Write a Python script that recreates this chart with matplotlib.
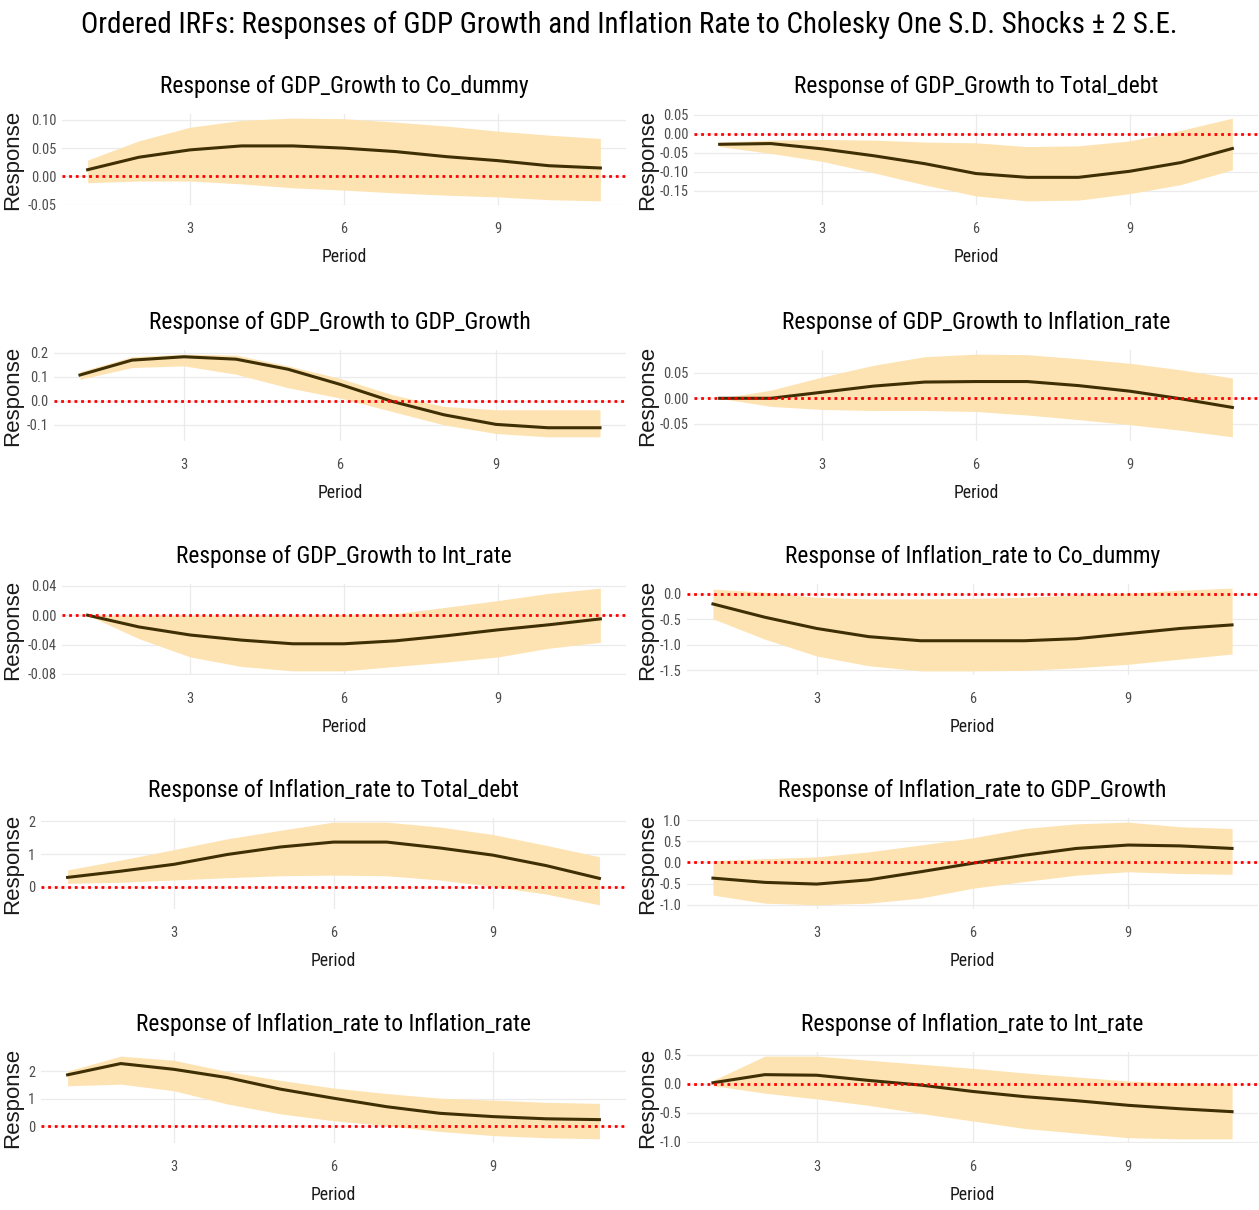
import numpy as np
import matplotlib
matplotlib.use('Agg')
import matplotlib.pyplot as plt
from matplotlib import font_manager
from matplotlib.font_manager import FontProperties
from matplotlib.textpath import TextToPath

W, H, DPI = 1259, 1210, 100

periods = np.arange(1, 12)

# responses of GDP_Growth
gdp_co_irf = [0.012, 0.034, 0.047, 0.054, 0.054, 0.050, 0.044, 0.035, 0.028, 0.019, 0.015]
gdp_co_lo = [-0.011, -0.008, -0.008, -0.013, -0.020, -0.024, -0.029, -0.033, -0.036, -0.041, -0.043]
gdp_co_hi = [0.029, 0.063, 0.087, 0.099, 0.103, 0.102, 0.096, 0.089, 0.080, 0.073, 0.067]

gdp_debt_irf = [-0.028, -0.026, -0.040, -0.058, -0.079, -0.105, -0.115, -0.115, -0.099, -0.076, -0.039]
gdp_debt_lo = [-0.034, -0.052, -0.073, -0.103, -0.135, -0.164, -0.177, -0.175, -0.158, -0.134, -0.095]
gdp_debt_hi = [-0.022, -0.017, -0.015, -0.017, -0.022, -0.024, -0.034, -0.032, -0.019, 0.009, 0.041]

gdp_gdp_irf = [0.107, 0.169, 0.183, 0.173, 0.131, 0.068, -0.003, -0.059, -0.099, -0.113, -0.113]
gdp_gdp_lo = [0.089, 0.138, 0.145, 0.110, 0.054, 0.011, -0.045, -0.101, -0.137, -0.151, -0.151]
gdp_gdp_hi = [0.121, 0.183, 0.194, 0.190, 0.145, 0.093, 0.025, -0.024, -0.038, -0.038, -0.038]

gdp_infl_irf = [0.000, 0.000, 0.012, 0.024, 0.032, 0.033, 0.033, 0.025, 0.014, -0.001, -0.018]
gdp_infl_lo = [0.000, -0.016, -0.022, -0.024, -0.024, -0.026, -0.033, -0.042, -0.052, -0.063, -0.076]
gdp_infl_hi = [0.000, 0.016, 0.042, 0.065, 0.082, 0.087, 0.086, 0.078, 0.069, 0.056, 0.040]

gdp_int_irf = [0.000, -0.016, -0.027, -0.034, -0.039, -0.039, -0.035, -0.028, -0.020, -0.013, -0.005]
gdp_int_lo = [0.000, -0.032, -0.057, -0.070, -0.076, -0.076, -0.070, -0.064, -0.057, -0.045, -0.037]
gdp_int_hi = [0.000, 0.000, 0.000, 0.000, 0.000, 0.001, 0.002, 0.011, 0.020, 0.030, 0.037]

# responses of Inflation_rate
infl_co_irf = [-0.20, -0.46, -0.68, -0.84, -0.92, -0.92, -0.92, -0.88, -0.78, -0.68, -0.61]
infl_co_lo = [-0.49, -0.89, -1.22, -1.41, -1.51, -1.51, -1.50, -1.45, -1.38, -1.28, -1.18]
infl_co_hi = [0.09, 0.03, -0.07, -0.10, -0.10, -0.09, -0.07, -0.02, 0.01, 0.07, 0.11]

infl_debt_irf = [0.29, 0.48, 0.69, 0.99, 1.22, 1.37, 1.37, 1.19, 0.97, 0.65, 0.26]
infl_debt_lo = [0.11, 0.14, 0.21, 0.28, 0.34, 0.36, 0.34, 0.21, 0.01, -0.22, -0.55]
infl_debt_hi = [0.52, 0.82, 1.14, 1.47, 1.73, 1.98, 1.98, 1.83, 1.60, 1.27, 0.92]

infl_gdp_irf = [-0.37, -0.47, -0.51, -0.41, -0.22, -0.02, 0.17, 0.33, 0.41, 0.39, 0.33]
infl_gdp_lo = [-0.77, -0.96, -1.00, -0.96, -0.84, -0.61, -0.45, -0.30, -0.22, -0.26, -0.28]
infl_gdp_hi = [0.04, 0.09, 0.13, 0.25, 0.41, 0.58, 0.80, 0.91, 0.95, 0.84, 0.80]

infl_infl_irf = [1.87, 2.28, 2.07, 1.77, 1.35, 1.02, 0.71, 0.47, 0.35, 0.27, 0.24]
infl_infl_lo = [1.47, 1.53, 1.29, 0.81, 0.45, 0.20, 0.02, -0.19, -0.34, -0.42, -0.46]
infl_infl_hi = [2.01, 2.55, 2.40, 1.99, 1.67, 1.39, 1.19, 1.02, 0.95, 0.87, 0.83]

infl_int_irf = [0.02, 0.16, 0.15, 0.06, -0.02, -0.13, -0.22, -0.29, -0.37, -0.43, -0.48]
infl_int_lo = [-0.03, -0.16, -0.26, -0.37, -0.51, -0.64, -0.77, -0.85, -0.93, -0.95, -0.95]
infl_int_hi = [0.06, 0.48, 0.48, 0.41, 0.34, 0.27, 0.19, 0.12, 0.05, 0.02, 0.00]

titles = [
    "Response of GDP_Growth to Co_dummy", "Response of GDP_Growth to Total_debt",
    "Response of GDP_Growth to GDP_Growth", "Response of GDP_Growth to Inflation_rate",
    "Response of GDP_Growth to Int_rate", "Response of Inflation_rate to Co_dummy",
    "Response of Inflation_rate to Total_debt", "Response of Inflation_rate to GDP_Growth",
    "Response of Inflation_rate to Inflation_rate", "Response of Inflation_rate to Int_rate",
]
series = [
    (gdp_co_irf, gdp_co_lo, gdp_co_hi), (gdp_debt_irf, gdp_debt_lo, gdp_debt_hi),
    (gdp_gdp_irf, gdp_gdp_lo, gdp_gdp_hi), (gdp_infl_irf, gdp_infl_lo, gdp_infl_hi),
    (gdp_int_irf, gdp_int_lo, gdp_int_hi), (infl_co_irf, infl_co_lo, infl_co_hi),
    (infl_debt_irf, infl_debt_lo, infl_debt_hi), (infl_gdp_irf, infl_gdp_lo, infl_gdp_hi),
    (infl_infl_irf, infl_infl_lo, infl_infl_hi), (infl_int_irf, infl_int_lo, infl_int_hi),
]
y_breaks = [
    [-0.05, 0.0, 0.05, 0.10], [-0.15, -0.10, -0.05, 0.0, 0.05],
    [-0.1, 0.0, 0.1, 0.2], [-0.05, 0.0, 0.05],
    [-0.08, -0.04, 0.0, 0.04], [-1.5, -1.0, -0.5, 0.0],
    [0, 1, 2], [-1.0, -0.5, 0.0, 0.5, 1.0],
    [0, 1, 2], [-1.0, -0.5, 0.0, 0.5],
]
y_decimals = [2, 2, 1, 2, 2, 1, 0, 1, 0, 1]
x_breaks = [3, 6, 9]

main_title = "Ordered IRFs: Responses of GDP Growth and Inflation Rate to Cholesky One S.D. Shocks \u00b1 2 S.E."

# pick the narrowest sans available
installed = {f.name for f in font_manager.fontManager.ttflist}
narrow = next((n for n in ["Liberation Sans Narrow", "Roboto Condensed", "Noto Sans Condensed",
                           "DejaVu Sans Condensed", "Liberation Sans"] if n in installed), "DejaVu Sans")
plain = "Liberation Sans" if "Liberation Sans" in installed else "DejaVu Sans"

_t2p = TextToPath()


def size_for_width(s, px, family):
    w, _, _ = _t2p.get_text_width_height_descent(s, FontProperties(family=family, size=10), ismath=False)
    return 10 * px / (w * DPI / 72)


title_size = size_for_width(main_title, 1100, narrow)
sub_size = size_for_width(titles[0], 370, narrow)
lab_size = size_for_width("Period", 45, narrow)
tick_size = size_for_width("-0.05", 29, narrow)
ylab_size = size_for_width("Response", 100, plain)

fill_col = "#FEE3B2"
line_col = "#3F2F05"
grid_col = "#EBEBEB"

fig = plt.figure(figsize=(W / DPI, H / DPI), dpi=DPI)
fig.patch.set_facecolor("white")
fig.text(0.5, 1 - 25 / H, main_title, ha="center", va="center", fontsize=title_size,
         family=narrow, color="black")

# panel boxes in pixels
col_left = [[62, 54, 62, 41, 41], [694, 694, 687, 687, 687]]
col_right = [626, 1258]
row_top = [114, 350, 584, 818, 1052]
panel_h = 91
ylab_x = [23, 658]

for i, (name, (irf, lo, hi)) in enumerate(zip(titles, series)):
    r, c = divmod(i, 2)
    left = col_left[c][r]
    width = col_right[c] - left
    ax = fig.add_axes([left / W, 1 - (row_top[r] + panel_h) / H, width / W, panel_h / H])

    ax.fill_between(periods, lo, hi, color=fill_col, lw=0, zorder=2)
    ax.plot(periods, irf, color=line_col, lw=2.2, zorder=3)
    ax.axhline(0, color="red", lw=2, ls=(0, (1, 1.4)), zorder=4)

    ymin = min(min(lo), 0)
    ymax = max(max(hi), 0)
    pad = 0.05 * (ymax - ymin)
    ax.set_ylim(ymin - pad, ymax + pad)
    ax.set_xlim(0.5, 11.5)

    ax.set_xticks(x_breaks)
    ax.set_xticklabels([str(b) for b in x_breaks])
    ax.set_yticks(y_breaks[i])
    ax.set_yticklabels([f"{b:.{y_decimals[i]}f}" for b in y_breaks[i]])
    ax.grid(True, color=grid_col, lw=0.9, zorder=0)
    ax.set_axisbelow(True)
    for s in ax.spines.values():
        s.set_visible(False)
    ax.tick_params(axis="both", length=0, labelsize=tick_size, labelcolor="#4D4D4D")
    ax.tick_params(axis="x", pad=12)
    ax.tick_params(axis="y", pad=4)
    for lbl in ax.get_xticklabels() + ax.get_yticklabels():
        lbl.set_family(narrow)

    ax.set_title(name, fontsize=sub_size, family=narrow, color="black", pad=15)
    ax.set_xlabel("Period", fontsize=lab_size, family=narrow, color="#1A1A1A", labelpad=9)
    ax.set_ylabel("Response", fontsize=ylab_size, family=plain, color="#1A1A1A")
    ax.yaxis.set_label_coords((ylab_x[c] - left) / width, 0.5)

fig.savefig("out.png", dpi=DPI, facecolor="white")
